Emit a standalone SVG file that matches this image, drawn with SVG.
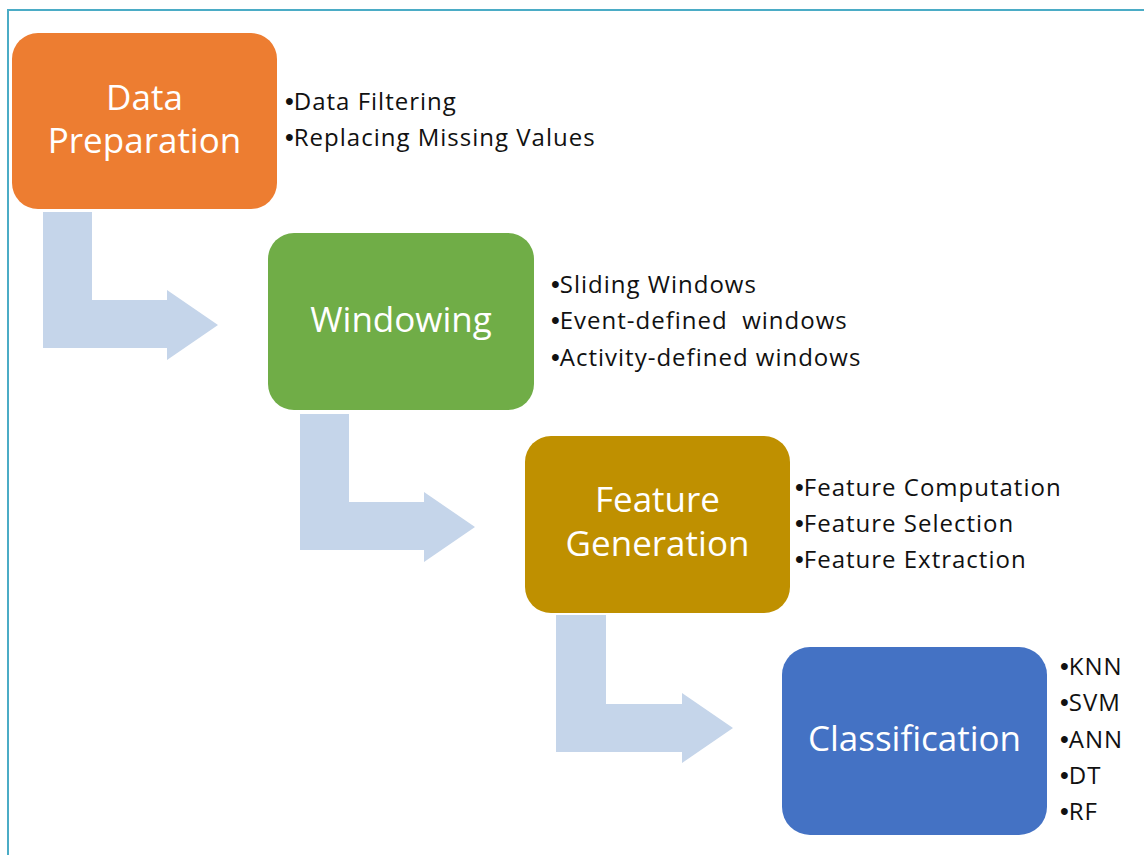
<svg xmlns="http://www.w3.org/2000/svg" width="1144" height="855" viewBox="0 0 1144 855">
<style>
.title{font-family:"Open Sans","Noto Sans",sans-serif;font-size:35px;fill:#ffffff;text-anchor:middle}
.item{font-family:"Open Sans","Noto Sans",sans-serif;font-size:24px;letter-spacing:1px;fill:#111111}
.b{font-family:"Liberation Sans","DejaVu Sans",sans-serif;font-size:25px;letter-spacing:0}
.arrow{fill:#C5D5EA}
</style>
<rect x="0" y="0" width="1144" height="855" fill="#ffffff"/>
<rect x="8" y="10" width="1150" height="860" fill="none" stroke="#4BACC6" stroke-width="2"/>
<g id="connectors">
<path class="arrow" d="M43,212 H92 V300 H167 V290 L218,325 L167,360 V348 H43 Z"/>
<path class="arrow" d="M300,414 H349 V502 H424 V492 L475,527 L424,562 V550 H300 Z"/>
<path class="arrow" d="M556,615 H606 V704 H682 V693 L733,728 L682,763 V752 H556 Z"/>
</g>
<g id="data-preparation">
<rect x="12" y="33" width="265" height="176" rx="26" fill="#ED7D31"/>
<text class="title" x="144.5" y="110">Data</text>
<text class="title" x="144.5" y="153">Preparation</text>
<text class="item" x="285" y="110"><tspan class="b">•</tspan>Data Filtering</text>
<text class="item" x="285" y="146"><tspan class="b">•</tspan>Replacing Missing Values</text>
</g>
<g id="windowing">
<rect x="268" y="233" width="266" height="177" rx="26" fill="#70AD47"/>
<text class="title" x="401" y="332">Windowing</text>
<text class="item" x="551" y="293"><tspan class="b">•</tspan>Sliding Windows</text>
<text class="item" x="551" y="329"><tspan class="b">•</tspan>Event-defined&#160; windows</text>
<text class="item" x="551" y="366"><tspan class="b">•</tspan>Activity-defined windows</text>
</g>
<g id="feature-generation">
<rect x="525" y="436" width="265" height="177" rx="26" fill="#BF9000"/>
<text class="title" x="657.5" y="512">Feature</text>
<text class="title" x="657.5" y="556">Generation</text>
<text class="item" x="795" y="496"><tspan class="b">•</tspan>Feature Computation</text>
<text class="item" x="795" y="532"><tspan class="b">•</tspan>Feature Selection</text>
<text class="item" x="795" y="568"><tspan class="b">•</tspan>Feature Extraction</text>
</g>
<g id="classification">
<rect x="782" y="647" width="265" height="188" rx="28" fill="#4472C4"/>
<text class="title" x="914.5" y="751">Classification</text>
<text class="item" x="1060" y="675"><tspan class="b">•</tspan>KNN</text>
<text class="item" x="1060" y="711"><tspan class="b">•</tspan>SVM</text>
<text class="item" x="1060" y="748"><tspan class="b">•</tspan>ANN</text>
<text class="item" x="1060" y="784"><tspan class="b">•</tspan>DT</text>
<text class="item" x="1060" y="820"><tspan class="b">•</tspan>RF</text>
</g>
</svg>
